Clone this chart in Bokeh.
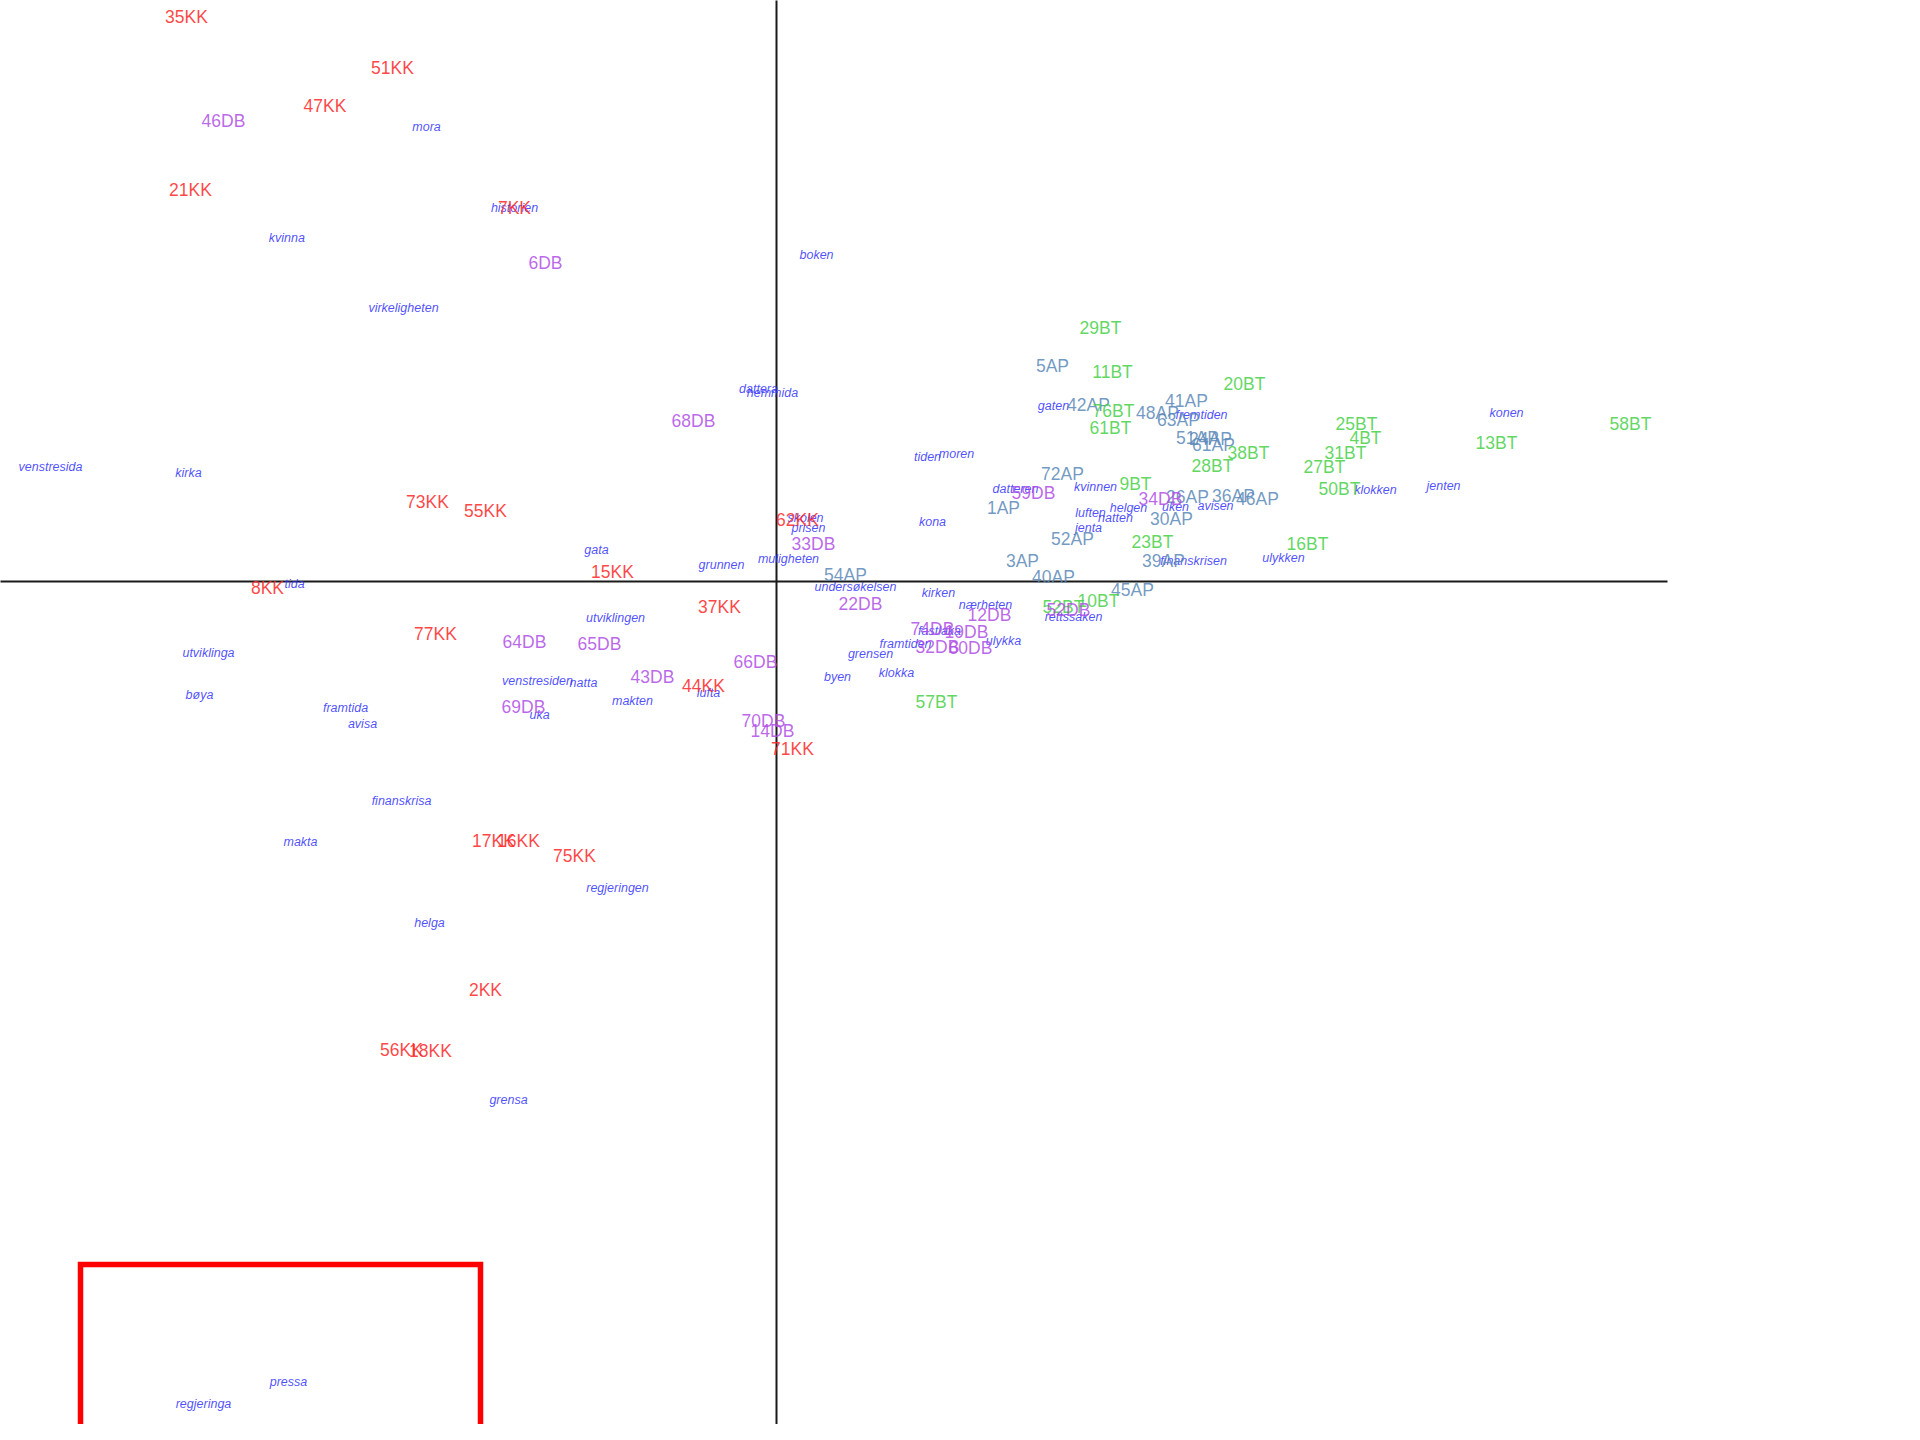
from bokeh.plotting import figure
from bokeh.models import ColumnDataSource, Range1d
from bokeh.embed import file_html
from bokeh.resources import INLINE
from bokeh.core.properties import value

# ---- data: correspondence-analysis style coordinates (dim1, dim2) ----
kk_labels = ["35KK", "51KK", "47KK", "21KK", "7KK", "73KK", "55KK", "62KK", "15KK", "8KK",
             "37KK", "77KK", "44KK", "71KK", "17KK", "16KK", "75KK", "2KK", "56KK", "18KK"]
kk_x = [-1.475, -0.96, -1.129, -1.465, -0.655, -0.8725, -0.7275, 0.0525, -0.41, -1.2725,
        -0.1425, -0.8525, -0.1825, 0.04, -0.7075, -0.645, -0.505, -0.7275, -0.9375, -0.865]
kk_y = [1.4125, 1.285, 1.19, 0.98, 0.935, 0.2, 0.1775, 0.155, 0.025, -0.015,
        -0.0625, -0.13, -0.26, -0.4175, -0.6475, -0.6475, -0.685, -1.02, -1.17, -1.1725]

db_labels = ["46DB", "6DB", "68DB", "33DB", "59DB", "34DB", "22DB", "12DB", "52DB", "74DB",
             "19DB", "32DB", "60DB", "64DB", "65DB", "66DB", "43DB", "69DB", "70DB", "14DB"]
db_x = [-1.3825, -0.5775, -0.2075, 0.0925, 0.6425, 0.96, 0.21, 0.5325, 0.73, 0.39,
        0.475, 0.4025, 0.485, -0.63, -0.4425, -0.0525, -0.31, -0.6325, -0.0325, -0.01]
db_y = [1.1525, 0.7975, 0.4025, 0.095, 0.2225, 0.2075, -0.055, -0.0825, -0.07, -0.1175,
        -0.125, -0.1625, -0.165, -0.15, -0.155, -0.2, -0.2375, -0.3125, -0.3475, -0.3725]

ap_labels = ["5AP", "42AP", "41AP", "48AP", "63AP", "51AP", "24AP", "61AP", "72AP", "1AP",
             "26AP", "36AP", "46AP", "30AP", "52AP", "3AP", "39AP", "40AP", "54AP", "45AP"]
ap_x = [0.69, 0.78, 1.025, 0.9525, 1.005, 1.0525, 1.085, 1.0925, 0.715, 0.5675,
        1.0275, 1.1425, 1.2025, 0.9875, 0.74, 0.615, 0.9675, 0.6925, 0.1725, 0.89]
ap_y = [0.54, 0.4425, 0.4525, 0.4225, 0.405, 0.36, 0.3575, 0.3425, 0.27, 0.185,
        0.2125, 0.215, 0.2075, 0.1575, 0.1075, 0.0525, 0.0525, 0.0125, 0.0175, -0.02]

bt_labels = ["29BT", "11BT", "20BT", "76BT", "61BT", "25BT", "4BT", "38BT", "31BT", "28BT",
             "27BT", "13BT", "58BT", "9BT", "50BT", "23BT", "16BT", "10BT", "52BT", "57BT"]
bt_x = [0.81, 0.84, 1.17, 0.8425, 0.835, 1.45, 1.4725, 1.18, 1.4225, 1.09,
        1.37, 1.8, 2.135, 0.8975, 1.4075, 0.94, 1.3275, 0.805, 0.7175, 0.4]
bt_y = [0.635, 0.525, 0.495, 0.4275, 0.385, 0.395, 0.36, 0.3225, 0.3225, 0.29,
        0.2875, 0.3475, 0.395, 0.245, 0.2325, 0.1, 0.095, -0.0475, -0.0625, -0.3]

word_labels = ["mora", "historien", "kvinna", "boken", "virkeligheten", "dattera", "hemmida",
               "tiden", "moren", "gaten", "fremtiden", "konen", "venstresida", "kirka",
               "datteren", "kvinnen", "klokken", "jenten", "helgen", "luften", "natten",
               "uken", "avisen", "skolen", "prisen", "kona", "jenta", "gata", "muligheten",
               "grunnen", "finanskrisen", "ulykken", "tida", "undersøkelsen", "kirken",
               "nærheten", "rettssaken", "utviklingen", "fastlaka", "ulykka", "framtiden",
               "grensen", "utviklinga", "klokka", "byen", "venstresiden", "natta", "lufta",
               "bøya", "makten", "framtida", "uka", "avisa", "finanskrisa", "makta",
               "regjeringen", "helga", "grensa", "pressa", "regjeringa"]
word_x = [-0.875, -0.655, -1.224, 0.1, -0.9325, -0.045, -0.01,
          0.3775, 0.45, 0.6925, 1.0625, 1.825, -1.815, -1.47,
          0.5975, 0.7975, 1.4975, 1.6675, 0.88, 0.785, 0.8475,
          0.9975, 1.0975, 0.0725, 0.08, 0.39, 0.78, -0.45, 0.03,
          -0.1375, 1.0425, 1.2675, -1.205, 0.1975, 0.405,
          0.5225, 0.7425, -0.4025, 0.4075, 0.5675, 0.3225,
          0.235, -1.42, 0.3, 0.1525, -0.5975, -0.4825, -0.17,
          -1.4425, -0.36, -1.0775, -0.5925, -1.035, -0.9375, -1.19,
          -0.3975, -0.8675, -0.67, -1.22, -1.4325]
word_y = [1.1375, 0.935, 0.8585, 0.8175, 0.685, 0.4825, 0.4725,
          0.3125, 0.32, 0.44, 0.4175, 0.4225, 0.2875, 0.2725,
          0.2325, 0.2375, 0.23, 0.24, 0.185, 0.1725, 0.16,
          0.1875, 0.19, 0.16, 0.135, 0.15, 0.135, 0.08, 0.0575,
          0.0425, 0.0525, 0.06, -0.005, -0.0125, -0.0275,
          -0.0575, -0.0875, -0.09, -0.1225, -0.1475, -0.155,
          -0.18, -0.1775, -0.2275, -0.2375, -0.2475, -0.2525, -0.2775,
          -0.2825, -0.2975, -0.315, -0.3325, -0.355, -0.5475, -0.65,
          -0.765, -0.8525, -1.295, -2.0, -2.055]

# axis cross lines and highlight box (in data units)
h_axis_x = [-1.95, 2.2275]
v_axis_y = [-2.6, 1.6]
box_left, box_right, box_top, box_bottom = -1.74, -0.74, -1.7075, -2.6

# ---- figure ----
p = figure(width=1904, height=1424, output_backend="svg", toolbar_location=None,
           x_range=Range1d(-1.94, 2.82), y_range=Range1d(-2.1075, 1.4525),
           x_axis_location=None, y_axis_location=None, min_border=0)
p.grid.visible = False
p.outline_line_color = None
p.background_fill_color = "white"

p.line(x=h_axis_x, y=[0, 0], line_color="#1a1a1a", line_width=2)
p.line(x=[0, 0], y=v_axis_y, line_color="#1a1a1a", line_width=2)

p.quad(left=[box_left], right=[box_right], top=[box_top], bottom=[box_bottom],
       fill_color=None, line_color="#ff0000", line_width=5.5, line_join="miter")

font = value("Liberation Sans")

def add_labels(labels, xs, ys, color, size, style):
    src = ColumnDataSource(dict(x=xs, y=ys, t=labels))
    p.text(x="x", y="y", text="t", source=src, text_color=color, text_alpha=0.85,
           text_font=font, text_font_size=size, text_font_style=style,
           text_align="center", text_baseline="middle")

add_labels(word_labels, word_x, word_y, "#3030ff", "12.5px", "italic")
add_labels(ap_labels, ap_x, ap_y, "#5a88b8", "17.5px", "normal")
add_labels(bt_labels, bt_x, bt_y, "#46d046", "17.5px", "normal")
add_labels(db_labels, db_x, db_y, "#b04ee6", "17.5px", "normal")
add_labels(kk_labels, kk_x, kk_y, "#ff2626", "17.5px", "normal")

open("out.html", "w").write(file_html(p, INLINE))
